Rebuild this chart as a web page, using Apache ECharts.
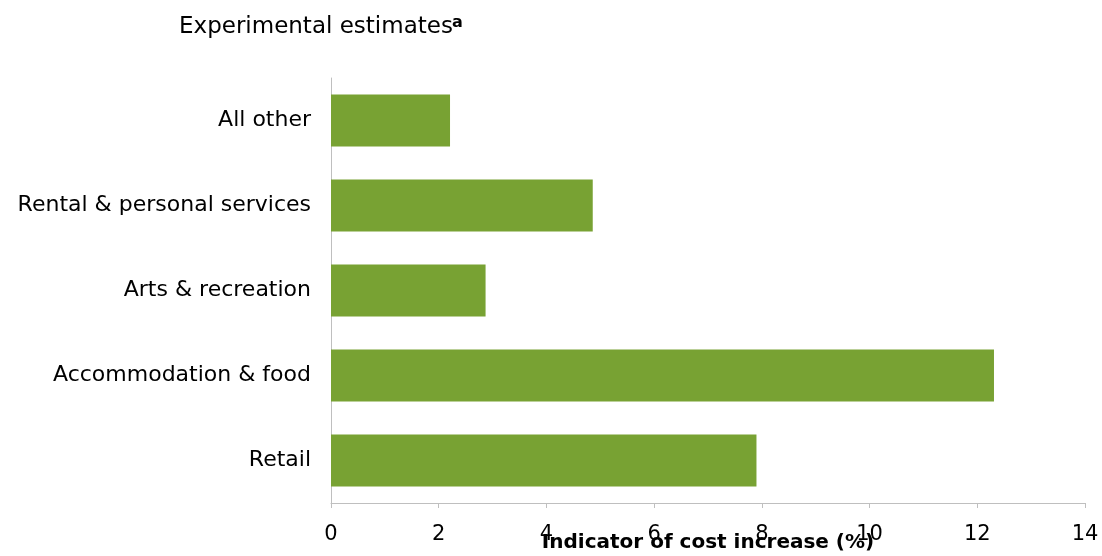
<!DOCTYPE html>
<html>
<head>
<meta charset="utf-8">
<script src="https://cdn.jsdelivr.net/npm/echarts@6/dist/echarts.min.js"></script>
<style>
html,body{margin:0;padding:0;background:#fff;}
#chart{width:1102px;height:556px;}
</style>
</head>
<body>
<div id="chart"></div>
<script>
// Categories listed bottom-to-top (ECharts category y-axis starts at the bottom)
const categories = ['Retail', 'Accommodation & food', 'Arts & recreation', 'Rental & personal services', 'All other'];
const values = [7.9, 12.31, 2.87, 4.86, 2.21];
const xTicks = [0, 2, 4, 6, 8, 10, 12, 14];
const titleText = 'Experimental estimates';
const titleNote = 'a';
const xAxisName = 'Indicator of cost increase (%)';

const FONT = 'DejaVu Sans';
const chart = echarts.init(document.getElementById('chart'), null, {renderer: 'canvas'});
chart.setOption({
  animation: false,
  backgroundColor: '#ffffff',
  graphic: [
    {type: 'text', left: 179, top: 16, style: {text: titleText, font: '23px "' + FONT + '"', fill: '#000'}},
    {type: 'text', left: 452, top: 15, style: {text: titleNote, font: 'bold 16px "' + FONT + '"', fill: '#000'}}
  ],
  grid: {left: 331, right: 17, top: 78, bottom: 53, outerBoundsMode: 'none', containLabel: false},
  xAxis: {
    type: 'value',
    min: xTicks[0],
    max: xTicks[xTicks.length - 1],
    interval: 2,
    name: xAxisName,
    nameLocation: 'middle',
    nameGap: 30,
    nameMoveOverlap: false,
    nameTextStyle: {fontFamily: FONT, fontSize: 20, fontWeight: 'bold', color: '#000'},
    axisLine: {show: true, lineStyle: {color: '#BFBFBF', width: 1}},
    axisTick: {show: true, length: 5, lineStyle: {color: '#BFBFBF'}},
    axisLabel: {fontFamily: FONT, fontSize: 21, color: '#000', margin: 21},
    splitLine: {show: false}
  },
  yAxis: {
    type: 'category',
    data: categories,
    axisLine: {show: true, lineStyle: {color: '#BFBFBF', width: 1}},
    axisTick: {show: false},
    axisLabel: {fontFamily: FONT, fontSize: 22, color: '#000', margin: 20},
    splitLine: {show: false}
  },
  series: [{
    type: 'bar',
    data: values,
    barCategoryGap: '39%',
    itemStyle: {color: '#78A233'}
  }]
});
</script>
</body>
</html>
